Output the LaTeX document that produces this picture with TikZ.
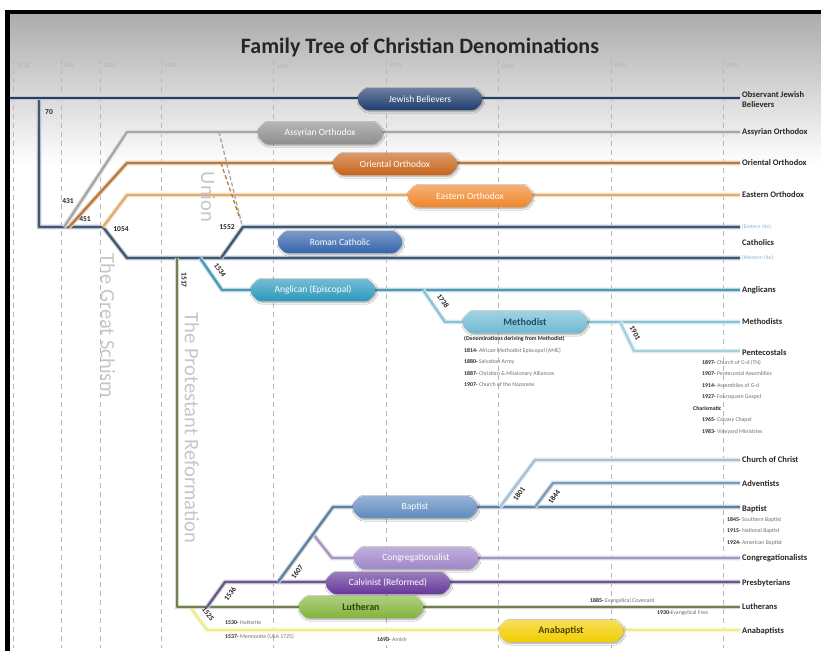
\documentclass[tikz,border=0pt]{standalone}
\usepackage{fontspec}
\setmainfont{Carlito}
\usepackage{xcolor}
\usepackage{tikz}
\usetikzlibrary{positioning, shapes.misc, shadows.blur}
\definecolor{ink}{HTML}{262626}
\definecolor{mute}{HTML}{707070}
\definecolor{gridc}{HTML}{B8B8B8}
\definecolor{riteblue}{HTML}{8CB0D2}
\definecolor{jewbox}{HTML}{1E3D6E}
\definecolor{jewln}{HTML}{263F62}
\definecolor{assybox}{HTML}{8E8E8E}
\definecolor{assyln}{HTML}{A6A6A6}
\definecolor{oribox}{HTML}{C8641A}
\definecolor{oriln}{HTML}{B97A3C}
\definecolor{easbox}{HTML}{F0862A}
\definecolor{easln}{HTML}{E2AC6C}
\definecolor{cathbox}{HTML}{3465AC}
\definecolor{cathln}{HTML}{3E5874}
\definecolor{anglbox}{HTML}{2A98BE}
\definecolor{anglln}{HTML}{4A9AB4}
\definecolor{methbox}{HTML}{6FBAD2}
\definecolor{methln}{HTML}{8CC3D4}
\definecolor{methink}{HTML}{1F4E5E}
\definecolor{pentln}{HTML}{A6CFDF}
\definecolor{baptbox}{HTML}{5F8AC0}
\definecolor{baptln}{HTML}{5F809F}
\definecolor{cocln}{HTML}{A7BED4}
\definecolor{advln}{HTML}{7C9CB8}
\definecolor{congbox}{HTML}{9E86C8}
\definecolor{congln}{HTML}{A496BE}
\definecolor{calvbox}{HTML}{65379A}
\definecolor{calvln}{HTML}{6A5888}
\definecolor{luthbox}{HTML}{82B43A}
\definecolor{luthln}{HTML}{6F8152}
\definecolor{luthink}{HTML}{2E4212}
\definecolor{anabbox}{HTML}{F2CE00}
\definecolor{anabln}{HTML}{EEEC8C}
\definecolor{anabink}{HTML}{4F4300}
\newcommand{\dyr}[1]{\textcolor{ink}{\bfseries #1-}}
\tikzset{
  lane/.style   = {line width=2.3pt, draw=#1, line join=round,
                   preaction={draw=#1!30, line width=4.6pt}},
  union/.style  = {line width=1.3pt, dash pattern=on 4pt off 2.5pt},
  yrline/.style = {draw=gridc, line width=0.7pt, dash pattern=on 5pt off 4pt},
  den/.style    = {chamfered rectangle, chamfered rectangle xsep=4pt,
                   rounded corners=2.5pt, minimum width=124pt, minimum height=22pt,
                   inner sep=1pt, top color=#1!65!white, bottom color=#1,
                   text=white, font=\fontsize{9.5}{10}\selectfont,
                   blur shadow={shadow blur steps=6, shadow xshift=1pt,
                                shadow yshift=-1.2pt, shadow opacity=40}},
  endlbl/.style = {anchor=west, inner sep=2pt, align=left, text=ink,
                   font=\bfseries\fontsize{8.5}{10}\selectfont},
  rite/.style   = {anchor=west, inner sep=2pt, text=riteblue,
                   font=\fontsize{5.5}{6}\selectfont},
  yr/.style     = {inner sep=0.5pt, text=ink, font=\bfseries\fontsize{7.5}{8}\selectfont},
  era/.style    = {rotate=-90, text=gray!45, font=\fontsize{20.5}{22}\selectfont},
  subl/.style   = {anchor=north west, inner sep=0pt, align=left, text=mute,
                   font=\fontsize{5.8}{11.5}\selectfont},
  ticklbl/.style= {anchor=west, inner sep=1pt, text=gray!60,
                   font=\fontsize{6}{7}\selectfont},
}

\begin{document}
\begin{tikzpicture}[x=1pt, y=-1pt]
  \useasboundingbox (0,0) rectangle (821,651);

  % frame and header
  \fill[white] (0,0) rectangle (821,651);
  \shade[top color=gray!65, bottom color=white] (10,14) rectangle (821,165);
  \fill[black] (5,10) rectangle (821,14);
  \fill[black] (5,10) rectangle (10,651);

  \foreach \gx/\yl in {13/30 CE, 61/400, 100/1000, 161/1500, 273/1600,
                       386/1700, 498/1800, 611/1900, 723/2000}{
    \draw[yrline] (\gx,60) -- (\gx,648);
    \node[ticklbl] (t\gx) at (\gx+2,66) {\yl};
  }

  \node[font=\bfseries\fontsize{22}{24}\selectfont, text=ink] (title) at (420,47)
       {Family Tree of Christian Denominations};

  % end labels
  \node[endlbl] (lobs)  at (740,100) {Observant Jewish\\Believers};
  \node[endlbl] (lassy) at (740,132) {Assyrian Orthodox};
  \node[endlbl] (lori)  at (740,163) {Oriental Orthodox};
  \node[endlbl] (leas)  at (740,195) {Eastern Orthodox};
  \node[rite]   (lerite) at (740,227) {(Eastern rite)};
  \node[endlbl] (lcath) at (740,243) {Catholics};
  \node[rite]   (lwrite) at (740,258) {(Western rite)};
  \node[endlbl] (langl) at (740,290) {Anglicans};
  \node[endlbl] (lmeth) at (740,322) {Methodists};
  \node[endlbl] (lpent) at (740,353) {Pentecostals};
  \node[endlbl] (lcoc)  at (740,460) {Church of Christ};
  \node[endlbl] (ladv)  at (740,484) {Adventists};
  \node[endlbl] (lbapt) at (740,509) {Baptist};
  \node[endlbl] (lcong) at (740,558) {Congregationalists};
  \node[endlbl] (lpres) at (740,583) {Presbyterians};
  \node[endlbl] (llut)  at (740,607) {Lutherans};
  \node[endlbl] (lanab) at (740,631) {Anabaptists};

  % branch points
  \coordinate (jw0)   at (10,98);
  \coordinate (c70)   at (39,98);
  \coordinate (cfork) at (39,227);
  \coordinate (c431)  at (64,227);
  \coordinate (c451)  at (69,227);
  \coordinate (c1054) at (103,227);
  \coordinate (assyk) at (127,132);
  \coordinate (orik)  at (127,163);
  \coordinate (eask)  at (127,195);
  \coordinate (westk) at (127,258);
  \coordinate (c1517) at (177,258);
  \coordinate (c1534) at (200,258);
  \coordinate (c1552) at (221,258);
  \coordinate (eritek) at (243,227);
  \coordinate (anglk) at (222,290);
  \coordinate (c1738) at (423,290);
  \coordinate (methk) at (445,322);
  \coordinate (c1901) at (620,322);
  \coordinate (pentk) at (634,351);
  \coordinate (lutk)  at (177,607);
  \coordinate (c1525) at (190,607);
  \coordinate (anabk) at (207,630);
  \coordinate (c1536) at (207,607);
  \coordinate (calvk) at (225,582);
  \coordinate (c1607) at (278,582);
  \coordinate (congb) at (313,534);
  \coordinate (baptk) at (333,507);
  \coordinate (congk) at (332,558);
  \coordinate (c1801) at (500,507);
  \coordinate (cock)  at (535,460);
  \coordinate (c1844) at (535,507);
  \coordinate (advk)  at (553,483);
  \coordinate (uga)   at (219,132);
  \coordinate (ugb)   at (242,225);
  \coordinate (uoa)   at (221,163);
  \coordinate (uob)   at (240,219);

  \draw[lane=cathln] (c70) -- (cfork) -- (c1054) -- (westk) -- (westk -| lwrite.west);
  \draw[lane=jewln, line width=2.8pt] (jw0) -- (jw0 -| lobs.west);
  \draw[lane=assyln] (c431) -- (assyk) -- (assyk -| lassy.west);
  \draw[lane=oriln] (c451) -- (orik) -- (orik -| lori.west);
  \draw[lane=easln] (c1054) -- (eask) -- (eask -| leas.west);
  \draw[lane=cathln] (c1552) -- (eritek) -- (eritek -| lerite.west);
  \draw[lane=anglln] (c1534) -- (anglk) -- (anglk -| langl.west);
  \draw[lane=methln] (c1738) -- (methk) -- (methk -| lmeth.west);
  \draw[lane=pentln] (c1901) -- (pentk) -- (pentk -| lpent.west);
  \draw[lane=anabln] (c1525) -- (anabk) -- (anabk -| lanab.west);
  \draw[lane=luthln] (c1517) -- (lutk) -- (lutk -| llut.west);
  \draw[lane=calvln] (c1536) -- (calvk) -- (calvk -| lpres.west);
  \draw[lane=congln] (congb) -- (congk) -- (congk -| lcong.west);
  \draw[lane=baptln] (c1607) -- (baptk) -- (baptk -| lbapt.west);
  \draw[lane=cocln] (c1801) -- (cock) -- (cock -| lcoc.west);
  \draw[lane=advln] (c1844) -- (advk) -- (advk -| ladv.west);
  \draw[union, draw=assyln] (uga) -- (ugb);
  \draw[union, draw=oriln] (uoa) -- (uob);

  % denominations
  \node[den=jewbox]  (jew)  at (420,99)  {Jewish Believers};
  \node[den=assybox] (assy) at (320,133) {Assyrian Orthodox};
  \node[den=oribox]  (ori)  at (395,164) {Oriental Orthodox};
  \node[den=easbox]  (eas)  at (470,196) {Eastern Orthodox};
  \node[den=cathbox] (rc)   at (340,242) {Roman Catholic};
  \node[den=anglbox] (angl) at (313,290) {Anglican (Episcopal)};
  \node[den=methbox, text=methink, font=\bfseries\fontsize{10}{11}\selectfont]
       (meth) at (525,322) {Methodist};
  \node[den=baptbox] (bapt) at (415,507) {Baptist};
  \node[den=congbox] (cong) at (416,558) {Congregationalist};
  \node[den=calvbox] (calv) at (388,583) {Calvinist (Reformed)};
  \node[den=luthbox, text=luthink, font=\bfseries\fontsize{10}{11}\selectfont]
       (luth) at (361,607) {Lutheran};
  \node[den=anabbox, text=anabink, font=\bfseries\fontsize{10}{11}\selectfont]
       (anab) at (561,631) {Anabaptist};

  % dates
  \node[yr] (y70)   at (49,112)  {70};
  \node[yr] (y431)  at (68,201)  {431};
  \node[yr] (y451)  at (85,219)  {451};
  \node[yr] (y1054) at (121,229) {1054};
  \node[yr] (y1552) at (227,227) {1552};
  \node[yr, rotate=-90] (y1517) at (184,280) {1517};
  \node[yr, rotate=-55] (y1534) at (220,270) {1534};
  \node[yr, rotate=-55] (y1738) at (443,301) {1738};
  \node[yr, rotate=-62] (y1901) at (635,333) {1901};
  \node[yr, rotate=-54] (y1525) at (208,614) {1525};
  \node[yr, rotate=54]  (y1536) at (230,594) {1536};
  \node[yr, rotate=54]  (y1607) at (297,572) {1607};
  \node[yr, rotate=54]  (y1801) at (519,494) {1801};
  \node[yr, rotate=54]  (y1844) at (554,497) {1844};

  \node[era] (union)  at (208,197) {Union};
  \node[era] (schism) at (108,326) {The Great Schism};
  \node[era] (reform) at (192,428) {The Protestant Reformation};

  % offshoots
  \node[subl] (mnote) at (464,336)
       {\textcolor{ink}{\bfseries (Denominations deriving from Methodist)}\\
        \dyr{1814} African Methodist Episcopal (AME)\\
        \dyr{1880} Salvation Army\\
        \dyr{1887} Christian \& Missionary Alliances\\
        \dyr{1907} Church of the Nazarene};
  \node[subl] (pnote) at (693,360)
       {\hspace*{9pt}\dyr{1897} Church of G-d (TN)\\
        \hspace*{9pt}\dyr{1907} Pentecostal Assemblies\\
        \hspace*{9pt}\dyr{1914} Assemblies of G-d\\
        \hspace*{9pt}\dyr{1927} Foursquare Gospel\\
        \textcolor{ink}{\bfseries Charismatic}\\
        \hspace*{9pt}\dyr{1965} Calvary Chapel\\
        \hspace*{9pt}\dyr{1983} Vineyard Ministries};
  \node[subl] (bnote) at (727,517)
       {\dyr{1845} Southern Baptist\\
        \dyr{1915} National Baptist\\
        \dyr{1924} American Baptist};
  \node[subl, anchor=west] (evc) at (590,601) {\dyr{1885} Evangelical Covenant};
  \node[subl, anchor=west] (evf) at (657,613) {\dyr{1930}Evangelical Free};
  \node[subl, anchor=west] (hut) at (225,623) {\dyr{1530} Hutterite};
  \node[subl, anchor=west] (men) at (225,637) {\dyr{1537} Mennonite (USA 1725)};
  \node[subl, anchor=west] (ami) at (377,639) {\dyr{1693} Amish};

\end{tikzpicture}
\end{document}
